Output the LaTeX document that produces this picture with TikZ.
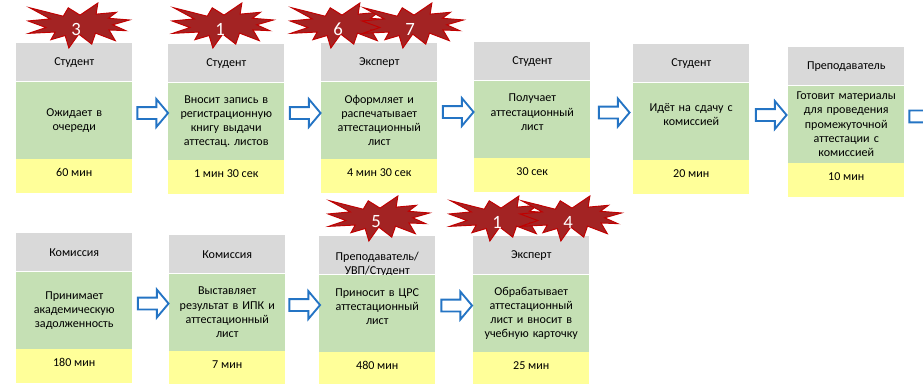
\documentclass[tikz,border=0pt]{standalone}
\usepackage{fontspec}
\setmainfont{Carlito}
\usetikzlibrary{positioning}
\usetikzlibrary{calc}
\usetikzlibrary{shapes.arrows}
\frenchspacing

\definecolor{rolegray}{HTML}{D9D9D9}
\definecolor{taskgreen}{HTML}{C5E0B4}
\definecolor{duryellow}{HTML}{FFFF99}
\definecolor{flowblue}{HTML}{2474C4}
\definecolor{burstred}{HTML}{A32323}
\definecolor{burstedge}{HTML}{C00000}

\tikzset{
  role/.style={fill=rolegray, minimum width=3.48cm, minimum height=1.14cm, inner sep=1pt, align=center, anchor=north west},
  task/.style={fill=taskgreen, minimum width=3.48cm, minimum height=2.31cm, inner sep=1pt, text width=3.36cm, align=center},
  dur/.style={fill=duryellow, minimum width=3.48cm, inner xsep=1pt, inner ysep=0pt, text height=0.51cm, text depth=0.51cm},
  flow/.style={single arrow, draw=flowblue, fill=white, line width=1.6pt, minimum height=0.92cm, minimum width=0pt,
    single arrow head extend=0.24cm, single arrow head indent=0pt, single arrow tip angle=100,
    inner xsep=0pt, inner ysep=0.15cm, yshift=0.23cm},
  burstnum/.style={text=white, font=\fontsize{16}{16}\selectfont, inner sep=0pt},
  burst/.pic={
    \filldraw[fill=burstred, draw=burstedge, line width=0.8pt]
      (0,-23.1) -- (17.2,-50) -- (15.5,-25.3) -- (35.1,-29.4) -- (27.3,-16.1) -- (47.7,-12.3)
      -- (31.5,-1.5) -- (44.1,11.5) -- (27.9,9.9) -- (34.0,33.8) -- (14.9,16.9) -- (11.3,41.4)
      -- (-1.2,19.1) -- (-10.7,50) -- (-14.3,22.3) -- (-28.0,31.6) -- (-23.8,14.5) -- (-49.4,17.5)
      -- (-32.8,4.5) -- (-50,-10.1) -- (-28.6,-14.7) -- (-48.3,-39.4) -- (-16.1,-20.7) -- (-11.3,-39.4) -- cycle;
  }
}

\begin{document}
\begin{tikzpicture}[x=0.03cm, y=-0.03cm, font=\fontsize{10.3}{12}\selectfont]
  \useasboundingbox (0,0) rectangle (923,383);
  \clip (0,0) rectangle (923,383);

  % first row
  % Студент: queue
  \node[role] (h1) at (16,43) {Студент};
  \node[task, below=0pt of h1] (w1) {Ожидает в\\очереди};
  \node[dur, below=0pt of w1] (d1) {60 мин};
  % Студент: register
  \node[role] (h2) at (168,44) {Студент};
  \node[task, below=0pt of h2] (w2) {Вносит запись в\\регистрационную\\книгу выдачи\\аттестац. листов};
  \node[dur, below=0pt of w2] (d2) {1 мин 30 сек};
  % Эксперт: print
  \node[role] (h3) at (321,43) {Эксперт};
  \node[task, below=0pt of h3] (w3) {Оформляет и\\распечатывает\\аттестационный\\лист};
  \node[dur, below=0pt of w3] (d3) {4 мин 30 сек};
  % Студент: receive
  \node[role] (h4) at (474,42) {Студент};
  \node[task, below=0pt of h4] (w4) {Получает\\аттестационный\\лист\\~};
  \node[dur, below=0pt of w4] (d4) {30 сек};
  % Студент: exam
  \node[role] (h5) at (633,44) {Студент};
  \node[task, below=0pt of h5] (w5) {Идёт на сдачу с\\комиссией\\~};
  \node[dur, below=0pt of w5] (d5) {20 мин};
  % Преподаватель: materials
  \node[role] (h6) at (788,47) {Преподаватель};
  \node[task, below=0pt of h6] (w6) {Готовит материалы\\для проведения\\промежуточной\\аттестации с\\комиссией};
  \node[dur, below=0pt of w6] (d6) {10 мин};

  % second row
  % Комиссия: accept
  \node[role] (h7) at (16,233) {Комиссия};
  \node[task, below=0pt of h7] (w7) {Принимает\\академическую\\задолженность};
  \node[dur, below=0pt of w7] (d7) {180 мин};
  % Комиссия: grade
  \node[role] (h8) at (169,235) {Комиссия};
  \node[task, below=0pt of h8] (w8) {Выставляет\\результат в ИПК и\\аттестационный\\лист};
  \node[dur, below=0pt of w8] (d8) {7 мин};
  % Преподаватель/УВП/Студент: deliver (text sits low in its box)
  \node[role] (h9) at (319,236) {\raisebox{-0.36cm}[0pt][0pt]{\begin{tabular}{@{}c@{}}Преподаватель/\\УВП/Студент\end{tabular}}};
  \node[task, below=0pt of h9] (w9) {Приносит в ЦРС\\аттестационный\\лист\\~};
  \node[dur, below=0pt of w9] (d9) {480 мин};
  % Эксперт: process
  \node[role] (h10) at (473,236) {Эксперт};
  \node[task, below=0pt of h10] (w10) {Обрабатывает\\аттестационный\\лист и вносит в\\учебную карточку};
  \node[dur, below=0pt of w10] (d10) {25 мин};

  % block arrows between steps
  \coordinate (edge) at (940,124);
  \node[flow] (f1) at ($(w1.east)!0.5!(w2.west)$) {};
  \node[flow] (f2) at ($(w2.east)!0.5!(w3.west)$) {};
  \node[flow] (f3) at ($(w3.east)!0.5!(w4.west)$) {};
  \node[flow] (f4) at ($(w4.east)!0.5!(w5.west)$) {};
  \node[flow] (f5) at ($(w5.east)!0.5!(w6.west)$) {};
  \node[flow] (f6) at ($(w6.east)!0.5!(edge)$) {};
  \node[flow] (f7) at ($(w7.east)!0.5!(w8.west)$) {};
  \node[flow] (f8) at ($(w8.east)!0.5!(w9.west)$) {};
  \node[flow] (f9) at ($(w9.east)!0.5!(w10.west)$) {};

  % bursts with counts
  \pic[xscale=1.04, yscale=0.45] at (80,25.5) {burst};
  \node[burstnum] (n1) at (76,29) {3};
  \pic[xscale=1.04, yscale=0.45] at (224,25.5) {burst};
  \node[burstnum] (n2) at (220,29) {1};
  \pic[xscale=1.04, yscale=0.45] at (342,25.5) {burst};
  \node[burstnum] (n3) at (338,29) {6};
  \pic[xscale=1.04, yscale=0.45] at (414,25.5) {burst};
  \node[burstnum] (n4) at (410,29) {7};
  \pic[xscale=1.04, yscale=0.45] at (380,218.5) {burst};
  \node[burstnum] (n5) at (376,222) {5};
  \pic[xscale=1.04, yscale=0.45] at (501,218.5) {burst};
  \node[burstnum] (n6) at (497,222) {1};
  \pic[xscale=1.04, yscale=0.45] at (572,218.5) {burst};
  \node[burstnum] (n7) at (568,222) {4};
\end{tikzpicture}
\end{document}
